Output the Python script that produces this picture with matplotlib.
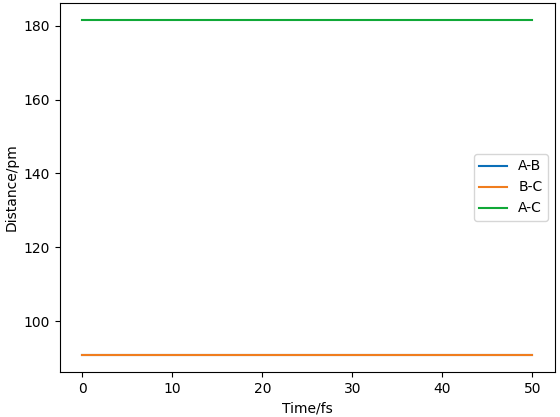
import matplotlib
matplotlib.use("Agg")
import matplotlib.pyplot as plt

time_fs = [0, 10, 20, 30, 40, 50]
dist_ab = [90.8, 90.8, 90.8, 90.8, 90.8, 90.8]
dist_bc = [90.8, 90.8, 90.8, 90.8, 90.8, 90.8]
dist_ac = [181.6, 181.6, 181.6, 181.6, 181.6, 181.6]

fig = plt.figure(figsize=(5.6, 4.17), dpi=100)
ax = fig.add_axes([0.107, 0.108, 0.884, 0.885])

ax.plot(time_fs, dist_ab, color="#0a6fb8", label="A-B")
ax.plot(time_fs, dist_bc, color="#f07d1e", label="B-C")
ax.plot(time_fs, dist_ac, color="#10a837", label="A-C")

ax.set_xlabel("Time/fs")
ax.set_ylabel("Distance/pm")
ax.legend(loc="center right")

fig.savefig("out.png", dpi=100)
